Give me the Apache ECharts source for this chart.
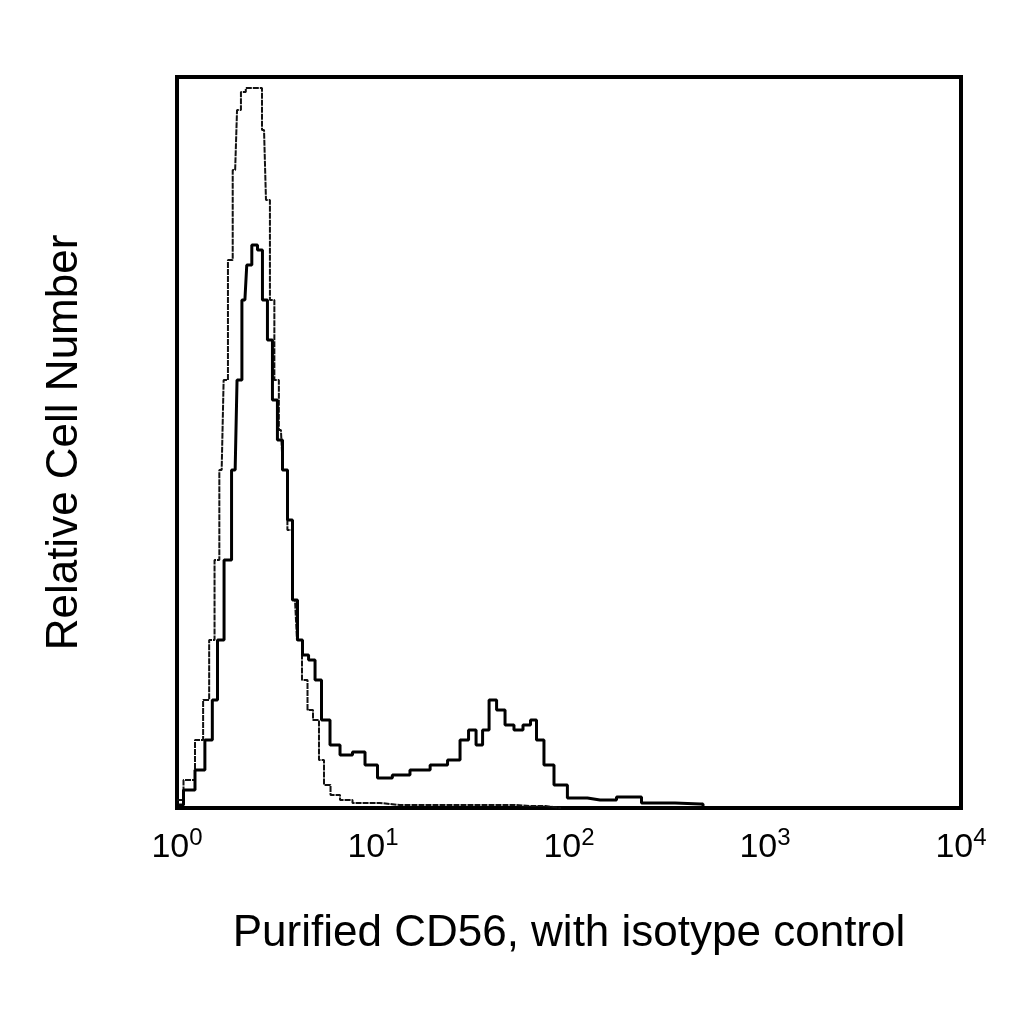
<!DOCTYPE html>
<html>
<head>
<meta charset="utf-8">
<script src="https://cdn.jsdelivr.net/npm/echarts@6/dist/echarts.min.js"></script>
<style>html,body{margin:0;background:#fff}#main{width:1024px;height:1024px}</style>
</head>
<body>
<div id="main"></div>
<script>
const chart = echarts.init(document.getElementById('main'));

// isotype control (thin trace)
const isoX = [1, 1.165, 1.31, 1.41, 1.51, 1.60, 1.69, 1.77, 1.87, 1.98, 2.07, 2.17, 2.32, 2.65, 2.78, 2.91, 3.05, 3.23, 3.39, 3.55, 3.77, 4.00, 4.19, 4.50, 4.77, 5.12, 5.49, 5.76, 6.40, 7.20, 8.58, 13.7, 44.5, 63.2, 91];
const isoY = [8, 28, 68, 108, 168, 248, 338, 428, 548, 638, 698, 716, 720, 720, 678, 608, 508, 428, 378, 338, 278, 208, 168, 128, 98, 88, 48, 23, 13, 8, 5, 3, 3, 2, 0];

// purified CD56 (thick trace)
const cdX = [1, 1.165, 1.31, 1.47, 1.56, 1.66, 1.82, 1.98, 2.07, 2.22, 2.32, 2.50, 2.65, 2.81, 2.98, 3.16, 3.35, 3.56, 3.77, 4.00, 4.24, 4.50, 4.89, 5.24, 5.69, 6.40, 7.20, 8.58, 9.66, 11.5, 13.7, 17.4, 22.0, 26.2, 29.5, 32.0, 35.2, 37.3, 41.0, 44.5, 50.0, 54.9, 61.8, 65.5, 71.1, 78.1, 90.0, 107, 144, 212, 259, 466, 500];
const cdY = [3, 18, 38, 68, 108, 168, 248, 338, 428, 508, 543, 563, 558, 508, 468, 408, 368, 338, 288, 208, 168, 153, 148, 128, 88, 63, 53, 56, 43, 30, 33, 38, 43, 48, 68, 78, 63, 78, 108, 98, 83, 78, 83, 88, 68, 43, 23, 10, 8, 11, 5, 4, 0];

const tickExp = ['0', '1', '2', '3', '4'];

const pairs = (xs, ys) => xs.map((x, i) => [x, ys[i]]);

chart.setOption({
  animation: false,
  grid: {
    left: 177, right: 63, top: 77, bottom: 216,
    show: true, borderColor: '#000', borderWidth: 4
  },
  xAxis: {
    type: 'log', min: 1, max: 10000, logBase: 10,
    axisLine: { show: false },
    axisTick: { show: false },
    splitLine: { show: false },
    minorTick: { show: false },
    axisLabel: {
      margin: 18,
      formatter: v => '{b|10}{s|' + tickExp[Math.round(Math.log10(v))] + '}',
      rich: {
        b: { fontFamily: 'Liberation Sans', fontSize: 34, color: '#000' },
        s: { fontFamily: 'Liberation Sans', fontSize: 24, color: '#000', verticalAlign: 'top', padding: [0, 0, 20, 0] }
      }
    },
    name: 'Purified CD56, with isotype control',
    nameLocation: 'middle', nameGap: 104,
    nameTextStyle: { fontFamily: 'Liberation Sans', fontSize: 44, color: '#000' }
  },
  yAxis: {
    type: 'value', min: 0, max: 731,
    axisLine: { show: false }, axisTick: { show: false },
    axisLabel: { show: false }, splitLine: { show: false },
    name: 'Relative Cell Number',
    nameLocation: 'middle', nameGap: 90, nameRotate: 90,
    nameTextStyle: { fontFamily: 'Liberation Sans', fontSize: 44, color: '#000' }
  },
  series: [
    {
      name: 'Isotype', type: 'line', step: 'middle', symbol: 'none',
      data: pairs(isoX, isoY),
      lineStyle: { color: '#111', width: 2, type: [6, 1] }
    },
    {
      name: 'CD56', type: 'line', step: 'middle', symbol: 'none',
      data: pairs(cdX, cdY),
      lineStyle: { color: '#000', width: 3 }
    }
  ]
});
</script>
</body>
</html>
